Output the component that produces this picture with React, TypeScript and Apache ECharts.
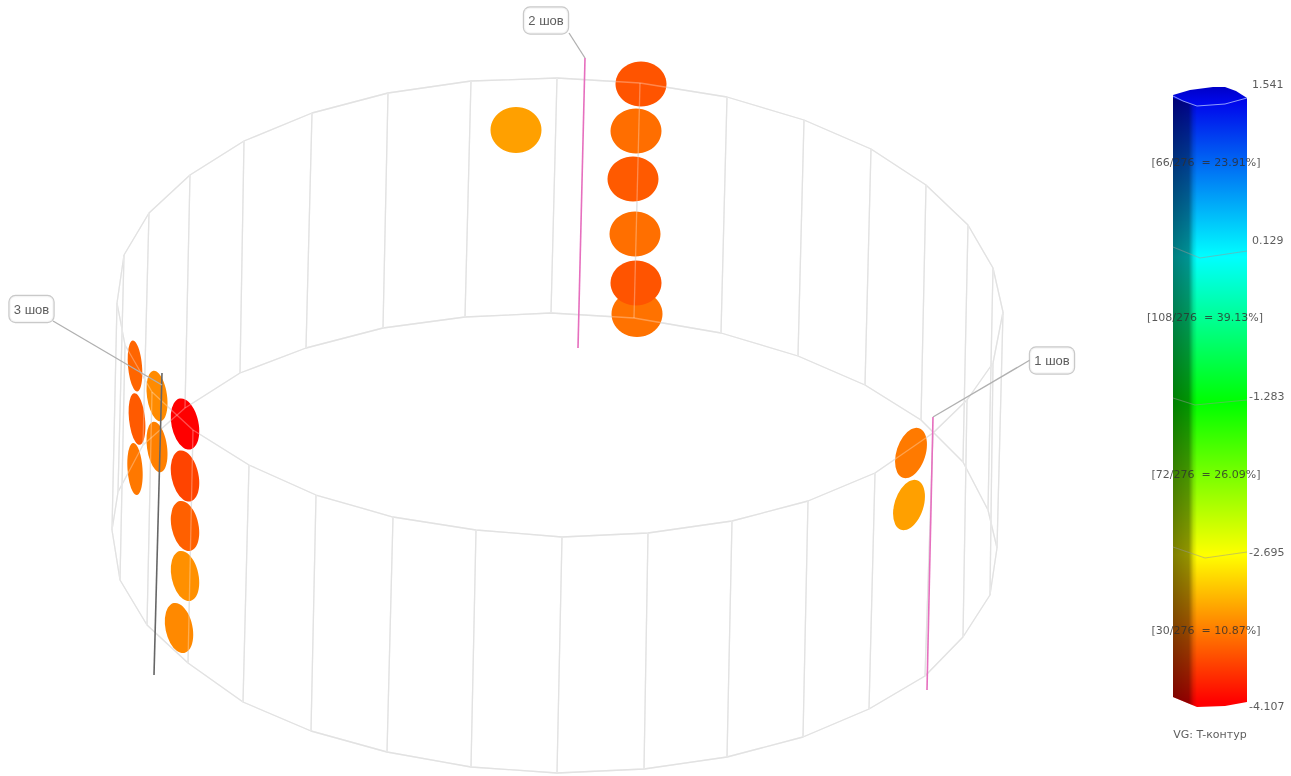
import React, { useEffect, useRef } from "react";
import * as echarts from "echarts";

// Wireframe of the cylinder: upper and lower rim vertices, pair by pair
const upperRim = [
  [124, 255], [149, 213], [190, 175], [244, 141], [312, 113], [388, 93], [471, 81], [557, 78],
  [640, 83], [727, 97], [804, 120], [871, 149], [926, 185], [968, 225], [993, 268], [1003, 312],
  [993, 363], [967, 400], [933, 433], [875, 473], [808, 501], [732, 521], [648, 533], [562, 537],
  [476, 530], [393, 517], [316, 495], [249, 465], [193, 430], [152, 392], [125, 345], [117, 303],
];
const lowerRim = [
  [118, 492], [143, 445], [185, 408], [240, 373], [306, 348], [383, 328], [465, 317], [551, 313],
  [634, 318], [721, 333], [798, 356], [865, 385], [921, 420], [963, 462], [988, 510], [997, 548],
  [990, 595], [963, 637], [925, 676], [869, 709], [803, 737], [727, 757], [644, 769], [557, 773],
  [471, 767], [387, 752], [311, 731], [243, 702], [188, 663], [147, 625], [120, 580], [112, 530],
];

// Measured spots: x, y, half-width, half-height, tilt (deg), T value
const spots = [
  [516, 130, 25.5, 23, 0, -3.22],
  [641, 84, 25.5, 22.5, 0, -3.64],
  [636, 131, 25.5, 22.5, 0, -3.5],
  [633, 179, 25.5, 22.5, 0, -3.61],
  [635, 234, 25.5, 22.5, 0, -3.49],
  [637, 314, 25.5, 23, 0, -3.476],
  [636, 283, 25.5, 22.5, 0, -3.64],
  [135, 366, 7, 25.5, 5, -3.55],
  [137, 419, 8, 26, 6, -3.61],
  [135, 469, 7.5, 26, 4, -3.44],
  [157, 396, 10, 25.5, 8, -3.34],
  [157, 447, 10, 25.5, 8, -3.4],
  [185, 424, 13.5, 26, 12, -4.107],
  [185, 476, 13.5, 26, 12, -3.73],
  [185, 526, 13.5, 25.5, 12, -3.575],
  [185, 576, 13.5, 25.5, 12, -3.31],
  [179, 628, 13.5, 25.5, 12, -3.35],
  [911, 453, 14.5, 26, -18, -3.43],
  [909, 505, 14.5, 26, -18, -3.22],
];

const pinkSeams = [
  [[585, 58], [578, 348]],
  [[933, 417], [927, 690]],
];
const darkSeams = [[[162, 373], [154, 675]]];
const leaders = [
  [[569, 33], [585, 58]],
  [[1030, 360], [933, 417]],
  [[53, 321], [162, 385]],
];
const seamLabels = [
  [546, 20.5, "2 шов"],
  [31.5, 309, "3 шов"],
  [1052, 360.5, "1 шов"],
];

// Colour bar
const tMin = -4.107;
const tMax = 1.541;
const barColors = ["#ff0000", "#ffff00", "#00ff00", "#00ffff", "#0000ff"];
const barOutline = [
  [1173, 95], [1190, 90], [1213, 87], [1225, 87], [1236, 91], [1247, 98], [1247, 702],
  [1225, 706], [1197, 707], [1173, 697],
];
const barShade = [[1173, 98], [1197, 106], [1197, 707], [1173, 697]];
const gradientStops = [
  [87, "#0000c8"], [103, "#0008ec"], [257, "#00ffff"], [403, "#00ff00"], [555, "#ffff00"], [702, "#ff0000"],
];
const capEdge = [[1173, 96], [1183, 101], [1197, 106], [1225, 104], [1247, 98]];
const bandEdges = [
  [[1173, 247], [1200, 258], [1247, 251]],
  [[1173, 398], [1195, 405], [1247, 400]],
  [[1173, 547], [1205, 558], [1247, 552]],
];
const tickLabels = [
  [1252, 84, "1.541"],
  [1252, 240, "0.129"],
  [1249, 396, "-1.283"],
  [1249, 552, "-2.695"],
  [1249, 706, "-4.107"],
];
const shareLabels = [
  [1206, 162, "[66/276  = 23.91%]"],
  [1205, 317, "[108/276  = 39.13%]"],
  [1206, 474, "[72/276  = 26.09%]"],
  [1206, 630, "[30/276  = 10.87%]"],
];
const captions = [[1210, 734, "VG: T-контур"]];

const closed = (pts: number[][]) => [...pts, pts[0]];
const pairs = upperRim.map((p, i) => ({ coords: [p, lowerRim[i]] }));

function wire(color: string, z: number) {
  const lineStyle = { color, width: 1.3 };
  return [
    { type: "line", data: closed(upperRim), showSymbol: false, symbol: "none", lineStyle, z, silent: true },
    { type: "line", data: closed(lowerRim), showSymbol: false, symbol: "none", lineStyle, z, silent: true },
    { type: "lines", coordinateSystem: "cartesian2d", data: pairs, lineStyle: { ...lineStyle, opacity: 1, curveness: 0 }, z, silent: true },
  ];
}

function segs(list: number[][][], color: string, width: number, z: number) {
  return {
    type: "lines",
    coordinateSystem: "cartesian2d",
    data: list.map((coords) => ({ coords })),
    lineStyle: { color, width, opacity: 1, curveness: 0 },
    z,
    silent: true,
  };
}

function texts(list: any[], size: number, align: string, color: string, z: number) {
  return {
    type: "scatter",
    data: list.map((t) => ({ value: [t[0], t[1]], name: t[2] })),
    symbolSize: 0,
    z,
    silent: true,
    label: {
      show: true,
      position: "inside",
      formatter: (p: any) => p.name,
      fontFamily: "DejaVu Sans",
      fontSize: size,
      color,
      align,
      verticalAlign: "middle",
    },
  };
}

function buildOption() {
  const y0 = 87;
  const y1 = 707;
  const frontFill = new echarts.graphic.LinearGradient(
    0, 0, 0, 1,
    gradientStops.map((s) => ({ offset: ((s[0] as number) - y0) / (y1 - y0), color: s[1] as string })),
  );
  const sideFill = new echarts.graphic.LinearGradient(0, 0, 1, 0, [
    { offset: 0, color: "rgba(0,0,0,0.5)" },
    { offset: 0.66, color: "rgba(0,0,0,0.42)" },
    { offset: 0.85, color: "rgba(0,0,0,0.12)" },
    { offset: 1, color: "rgba(0,0,0,0)" },
  ]);
  const polyline = (api: any, pts: number[][], stroke: string, width: number) => ({
    type: "polyline",
    shape: { points: pts.map((p) => api.coord(p)) },
    style: { stroke, lineWidth: width, fill: "none" },
  });
  return {
    animation: false,
    backgroundColor: "#ffffff",
    grid: { left: 0, right: 0, top: 0, bottom: 0 },
    xAxis: { type: "value", min: 0, max: 1291, show: false },
    yAxis: { type: "value", min: 0, max: 776, inverse: true, show: false },
    visualMap: {
      show: false,
      type: "continuous",
      min: tMin,
      max: tMax,
      dimension: 5,
      seriesIndex: 3,
      inRange: { color: barColors },
    },
    series: [
      ...wire("#d6d6d6", 1),
      {
        type: "scatter",
        data: spots,
        encode: { x: 0, y: 1 },
        symbol: "circle",
        symbolSize: (v: number[]) => [v[2] * 2, v[3] * 2],
        symbolRotate: (v: number[]) => v[4],
        itemStyle: { opacity: 1 },
        z: 2,
        silent: true,
      },
      ...wire("rgba(255,255,255,0.3)", 3),
      segs(pinkSeams, "#e66fbe", 1.6, 4),
      segs(darkSeams, "#666666", 1.6, 4),
      segs(leaders, "#b0b0b0", 1.3, 4),
      {
        type: "scatter",
        data: seamLabels.map((t) => ({ value: [t[0], t[1]], name: t[2] })),
        symbolSize: 0,
        z: 6,
        silent: true,
        label: {
          show: true,
          position: "inside",
          formatter: (p: any) => p.name,
          fontFamily: "Liberation Sans",
          fontSize: 13,
          color: "#333333",
          backgroundColor: "#ffffff",
          borderColor: "#bcbcbc",
          borderWidth: 1.2,
          borderRadius: 6,
          width: 44,
          height: 26,
          lineHeight: 26,
          align: "center",
          verticalAlign: "middle",
        },
      },
      {
        type: "custom",
        data: [0],
        z: 7,
        silent: true,
        renderItem: (_: any, api: any) => ({
          type: "group",
          children: [
            {
              type: "polygon",
              shape: { points: barOutline.map((p) => api.coord(p)) },
              style: { fill: frontFill },
            },
            {
              type: "polygon",
              shape: { points: barShade.map((p) => api.coord(p)) },
              style: { fill: sideFill },
            },
            polyline(api, capEdge, "rgba(190,205,255,0.75)", 1),
            ...bandEdges.map((e) => polyline(api, e, "rgba(150,150,150,0.5)", 1.2)),
          ],
        }),
      },
      texts(tickLabels, 11, "left", "#333333", 8),
      texts(shareLabels, 11, "center", "#2e2e2e", 8),
      texts(captions, 11, "center", "#333333", 8),
    ],
  };
}

export default function App() {
  const ref = useRef<HTMLDivElement>(null);
  useEffect(() => {
    const chart = echarts.init(ref.current!, null, { renderer: "svg" });
    chart.setOption(buildOption() as any);
    return () => chart.dispose();
  }, []);
  return (
    <div
      ref={ref}
      style={{ position: "absolute", left: 0, top: 0, width: 1291, height: 776, filter: "blur(0.4px)" }}
    />
  );
}
